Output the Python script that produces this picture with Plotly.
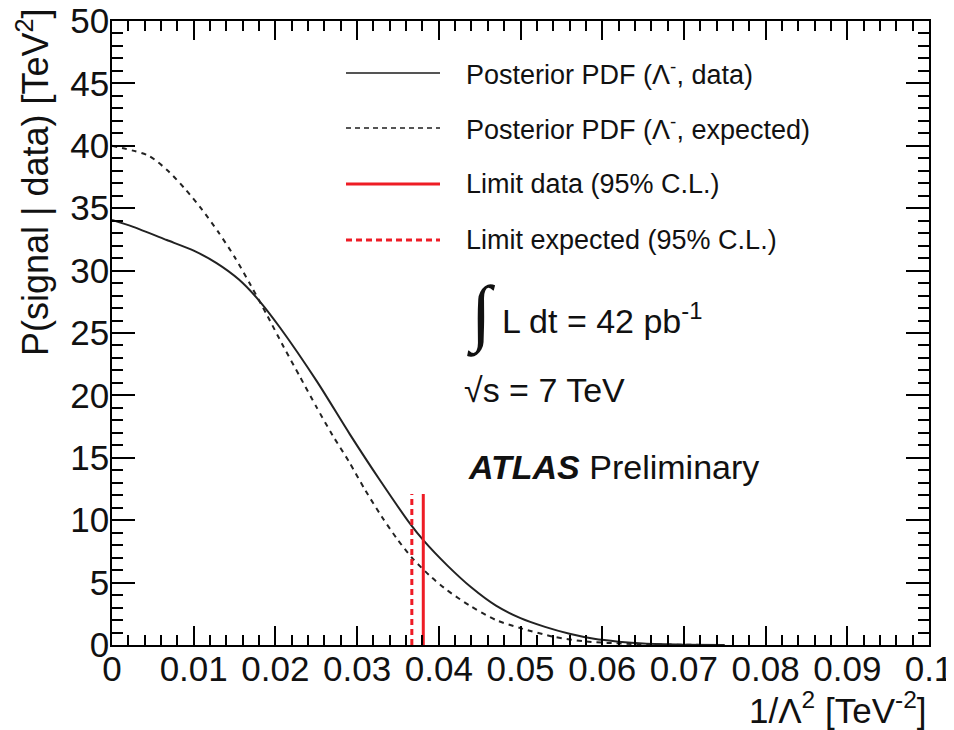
import plotly.graph_objects as go

# ---- data ----
x_data = [0.0, 0.0026, 0.0067, 0.0100, 0.0128, 0.0155, 0.0180, 0.0206, 0.0251, 0.0291,
          0.0328, 0.0365, 0.0381, 0.0410, 0.0440, 0.0470, 0.0500, 0.0530, 0.0560, 0.0590,
          0.0620, 0.0650, 0.0700, 0.0750]
y_data = [34.05, 33.5, 32.45, 31.6, 30.6, 29.3, 27.6, 25.4, 21.1, 16.9,
          13.2, 9.7, 8.4, 6.4, 4.6, 3.15, 2.15, 1.45, 0.9, 0.5,
          0.27, 0.12, 0.03, 0.0]

x_exp = [0.0, 0.0045, 0.0070, 0.0090, 0.0110, 0.0130, 0.0150, 0.0170, 0.0190, 0.0210,
         0.0230, 0.0250, 0.0270, 0.0290, 0.0310, 0.0330, 0.0350, 0.0367, 0.0389, 0.0410,
         0.0438, 0.0470, 0.0500, 0.0540, 0.0580, 0.0630, 0.0700, 0.0750]
y_exp = [40.0, 39.2, 37.9, 36.5, 34.9, 33.1, 31.1, 28.8, 26.4, 23.9,
         21.5, 19.1, 16.8, 14.7, 12.4, 10.3, 8.4, 7.0, 5.55, 4.4,
         3.15, 2.0, 1.35, 0.67, 0.28, 0.1, 0.02, 0.0]

limit_data = 0.0381
limit_expected = 0.0367
limit_height = 12.1

x_tickvals = [0, 0.01, 0.02, 0.03, 0.04, 0.05, 0.06, 0.07, 0.08, 0.09, 0.1]
x_ticktext = ["0", "0.01", "0.02", "0.03", "0.04", "0.05", "0.06", "0.07", "0.08", "0.09", "0.1"]
y_tickvals = [0, 5, 10, 15, 20, 25, 30, 35, 40, 45, 50]
y_ticktext = ["0", "5", "10", "15", "20", "25", "30", "35", "40", "45", "50"]

legend_labels = ["Posterior PDF (Λ<sup>-</sup>, data)",
                 "Posterior PDF (Λ<sup>-</sup>, expected)",
                 "Limit data (95% C.L.)",
                 "Limit expected (95% C.L.)"]

FONT = "Liberation Sans, Arial, Helvetica, sans-serif"
RED = "#ee1c25"
OFF = 8  # page body margin in the browser
W, H = 954 - OFF, 730 - OFF
# plot frame in screenshot pixels
SL, SR, ST, SB = 112, 929, 21, 645
L, R, T, B = SL - OFF, SR - OFF, ST - OFF, SB - OFF


def px(x):
    return (x - SL) / (SR - SL)


def py(y):
    return (SB - y) / (SB - ST)


fig = go.Figure()
fig.add_trace(go.Scatter(x=x_data, y=y_data, mode="lines", name=legend_labels[0],
                         line=dict(color="#222222", width=2, shape="spline", smoothing=0.7)))
fig.add_trace(go.Scatter(x=x_exp, y=y_exp, mode="lines", name=legend_labels[1],
                         line=dict(color="#222222", width=2, dash="5px,5px",
                                   shape="spline", smoothing=0.7)))
fig.add_trace(go.Scatter(x=[limit_data, limit_data], y=[0, limit_height], mode="lines",
                         name=legend_labels[2], line=dict(color=RED, width=3)))
fig.add_trace(go.Scatter(x=[limit_expected, limit_expected], y=[0, limit_height], mode="lines",
                         name=legend_labels[3], line=dict(color=RED, width=3, dash="6px,4px")))

# manual legend (ROOT style, long line samples)
legend_rows = [73, 128, 184, 240]
legend_styles = [dict(color="#555555", width=2),
                 dict(color="#555555", width=2, dash="5px,4px"),
                 dict(color=RED, width=3),
                 dict(color=RED, width=3, dash="6px,4px")]
shapes = []
annotations = []
for row, style, label in zip(legend_rows, legend_styles, legend_labels):
    shapes.append(dict(type="line", xref="paper", yref="paper",
                       x0=px(346), x1=px(440), y0=py(row), y1=py(row), line=style))
    annotations.append(dict(xref="paper", yref="paper", x=px(464), y=py(row),
                            xanchor="left", yanchor="middle", showarrow=False,
                            text=label, font=dict(family=FONT, size=27, color="#111111")))

# info texts
annotations += [
    dict(xref="paper", yref="paper", x=px(481), y=py(312), xanchor="center", yanchor="middle",
         showarrow=False, text="∫",
         font=dict(family="DejaVu Sans", size=74, weight=200, color="#111111")),
    dict(xref="paper", yref="paper", x=px(500), y=py(318), xanchor="left", yanchor="middle",
         showarrow=False, text="L dt = 42 pb<sup>-1</sup>",
         font=dict(family=FONT, size=34, color="#111111")),
    dict(xref="paper", yref="paper", x=px(462), y=py(390), xanchor="left", yanchor="middle",
         showarrow=False, text="√s = 7 TeV", font=dict(family=FONT, size=34, color="#111111")),
    dict(xref="paper", yref="paper", x=px(466), y=py(467), xanchor="left", yanchor="middle",
         showarrow=False, text="<b><i>ATLAS</i></b> Preliminary",
         font=dict(family=FONT, size=34, color="#111111")),
    # axis titles
    dict(xref="paper", yref="paper", x=1.0, y=py(708), xanchor="right", yanchor="middle",
         showarrow=False, text="1/Λ<sup>2</sup> [TeV<sup>-2</sup>]",
         font=dict(family=FONT, size=35, color="#111111")),
    dict(xref="paper", yref="paper", x=px(33), y=py(6), xanchor="center", yanchor="top",
         showarrow=False, textangle=-90, text="P(signal | data) [TeV<sup>2</sup>]",
         font=dict(family=FONT, size=36, color="#111111")),
]

axis_common = dict(showline=True, linecolor="black", linewidth=1.5, mirror="allticks",
                   ticks="inside", tickcolor="black", tickwidth=1.5, showgrid=False,
                   zeroline=False, automargin=False, ticklabeloverflow="allow",
                   tickfont=dict(family=FONT, size=35, color="#111111"))

fig.update_layout(
    width=W, height=H,
    margin=dict(l=L, r=W - R, t=T, b=H - B, pad=0),
    paper_bgcolor="white", plot_bgcolor="white",
    showlegend=False,
    shapes=shapes, annotations=annotations,
    xaxis=dict(range=[0, 0.1], tickvals=x_tickvals, ticktext=x_ticktext, ticklen=19,
               ticklabelstandoff=-8,
               minor=dict(ticks="inside", ticklen=10, dtick=0.002, tickcolor="black",
                          tickwidth=1.5, showgrid=False),
               **axis_common),
    yaxis=dict(range=[0, 50], tickvals=y_tickvals, ticktext=y_ticktext, ticklen=23,
               ticklabelstandoff=-6,
               minor=dict(ticks="inside", ticklen=11, dtick=1, tickcolor="black",
                          tickwidth=1.5, showgrid=False),
               **axis_common),
)

fig.write_html("out.html")
